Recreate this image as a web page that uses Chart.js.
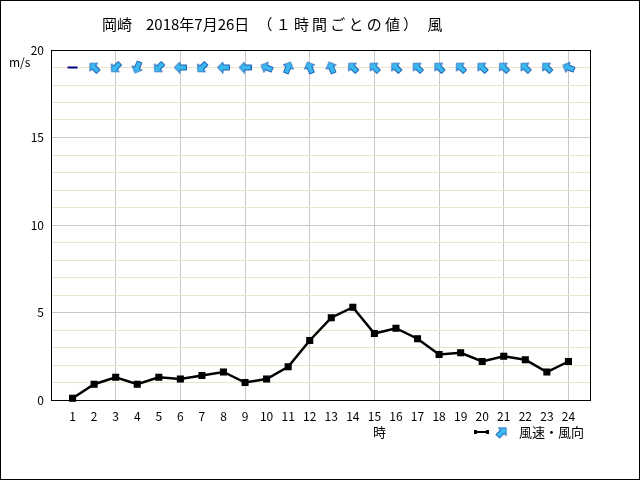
<!DOCTYPE html>
<html>
<head>
<meta charset="utf-8">
<script src="https://cdn.jsdelivr.net/npm/chart.js@4.4.0/dist/chart.umd.min.js"></script>
<style>
  body { margin: 0; background: #fff; }
  #wrap { width: 640px; height: 480px; box-sizing: border-box; border: 1px solid #000; background: #fff; }
</style>
</head>
<body>
<div id="wrap"><canvas id="myChart" width="638" height="478"></canvas></div>
<script>
// hours of the day (x axis)
const hours = [1,2,3,4,5,6,7,8,9,10,11,12,13,14,15,16,17,18,19,20,21,22,23,24];
// wind speed m/s
const windSpeed = [0.1,0.9,1.3,0.9,1.3,1.2,1.4,1.6,1.0,1.2,1.9,3.4,4.7,5.3,3.8,4.1,3.5,2.6,2.7,2.2,2.5,2.3,1.6,2.2];
// arrow heading, degrees clockwise from up (null = calm)
const windArrow = [null,315,225,202.5,225,270,225,270,270,292.5,22.5,337.5,337.5,315,315,315,315,315,315,315,315,315,315,292.5];
const yTicks = [0,5,10,15,20];
const arrowRow = 19;

const fontName = '"Noto Sans CJK JP", "Noto Sans", sans-serif';

function makeArrow() {
    var c = document.createElement('canvas');
    c.width = 12; c.height = 13;
    var g = c.getContext('2d');
    g.beginPath();
    g.moveTo(6, 0.5);
    g.lineTo(11.5, 6);
    g.lineTo(8.5, 6);
    g.lineTo(8.5, 12.5);
    g.lineTo(3.5, 12.5);
    g.lineTo(3.5, 6);
    g.lineTo(0.5, 6);
    g.closePath();
    g.fillStyle = '#3cb8f0';
    g.fill();
    g.strokeStyle = '#1a5fb4';
    g.lineWidth = 1;
    g.stroke();
    return c;
}
const arrowImg = makeArrow();

const extras = {
    id: 'extras',
    beforeDatasetsDraw(chart) {
        const a = chart.chartArea, ctx = chart.ctx;
        ctx.save();
        ctx.strokeStyle = '#000';
        ctx.lineWidth = 1;
        ctx.strokeRect(Math.round(a.left) + 0.5, Math.round(a.top) + 0.5, Math.round(a.right - a.left), Math.round(a.bottom - a.top));
        ctx.restore();
    },
    afterDraw(chart) {
        const ctx = chart.ctx;
        ctx.save();
        ctx.fillStyle = '#000';
        ctx.textBaseline = 'middle';
        ctx.textAlign = 'left';
        ctx.font = '15px ' + fontName;
        ctx.fillText('岡崎', 101, 23);
        ctx.fillText('2018年7月26日', 145, 23);
        // spaced out like the original bitmap font
        ctx.textAlign = 'center';
        var paren = '（１時間ごとの値）';
        for (var i = 0; i < paren.length; i++) {
            ctx.fillText(paren[i], 264 + i * 18.2, 23);
        }
        ctx.fillText('風', 434, 23);
        ctx.textAlign = 'left';

        ctx.font = '12px ' + fontName;
        ctx.fillText('m/s', 8, 61);
        ctx.font = '13px ' + fontName;
        ctx.fillText('時', 372, 431);

        // legend
        ctx.strokeStyle = '#000';
        ctx.lineWidth = 2;
        ctx.beginPath();
        ctx.moveTo(474, 431);
        ctx.lineTo(486, 431);
        ctx.stroke();
        ctx.fillRect(473, 429, 3, 4);
        ctx.fillRect(485, 429, 3, 4);
        ctx.translate(501, 431);
        ctx.rotate(Math.PI / 4);
        ctx.drawImage(arrowImg, -6, -6.5);
        ctx.setTransform(1, 0, 0, 1, 0, 0);
        ctx.font = '13px ' + fontName;
        ctx.fillText('風速・風向', 518, 431);
        ctx.restore();
    }
};

new Chart(document.getElementById('myChart'), {
    type: 'line',
    data: {
        datasets: [
            {
                data: hours.map(function (h) { return { x: h, y: arrowRow }; }),
                showLine: false,
                pointStyle: function (c) { return windArrow[c.dataIndex] === null ? 'line' : arrowImg; },
                rotation: function (c) { return windArrow[c.dataIndex] || 0; },
                pointRadius: 5,
                pointBorderWidth: 2,
                pointBorderColor: '#000080',
                pointBackgroundColor: '#000080'
            },
            {
                data: hours.map(function (h, i) { return { x: h, y: windSpeed[i] }; }),
                borderColor: '#000',
                borderWidth: 2.5,
                pointStyle: 'rect',
                pointRadius: 5,
                pointBackgroundColor: '#000',
                pointBorderColor: '#000',
                pointBorderWidth: 0,
                tension: 0,
                clip: false
            }
        ]
    },
    options: {
        responsive: false,
        animation: false,
        events: [],
        layout: { padding: { left: 0, right: 49, top: 49, bottom: 0 } },
        plugins: { legend: { display: false }, tooltip: { enabled: false } },
        scales: {
            x: {
                type: 'linear',
                min: 0,
                max: 25,
                afterFit: function (s) { s.height = 79; },
                border: { color: '#000', width: 1 },
                grid: {
                    drawTicks: false,
                    color: function (c) {
                        const v = c.tick.value;
                        return (v > 0 && v < 25 && v % 3 === 0) ? '#c8c8c8' : 'rgba(0,0,0,0)';
                    }
                },
                ticks: {
                    stepSize: 1,
                    autoSkip: false,
                    maxRotation: 0,
                    padding: 9,
                    color: '#000',
                    font: { family: fontName, size: 12 },
                    callback: function (v) { return (v >= 1 && v <= 24) ? String(v) : ''; }
                }
            },
            y: {
                min: 0,
                max: 20,
                afterFit: function (s) { s.width = 50; },
                border: { color: '#000', width: 1 },
                grid: {
                    drawTicks: false,
                    color: function (c) {
                        return c.tick.value % 5 === 0 ? '#c8c8c8' : '#ebe3cb';
                    }
                },
                ticks: {
                    stepSize: 1,
                    autoSkip: false,
                    padding: 7,
                    color: '#000',
                    font: { family: fontName, size: 12 },
                    callback: function (v) { return yTicks.indexOf(v) >= 0 ? String(v) : ''; }
                }
            }
        }
    },
    plugins: [extras]
});
</script>
</body>
</html>
